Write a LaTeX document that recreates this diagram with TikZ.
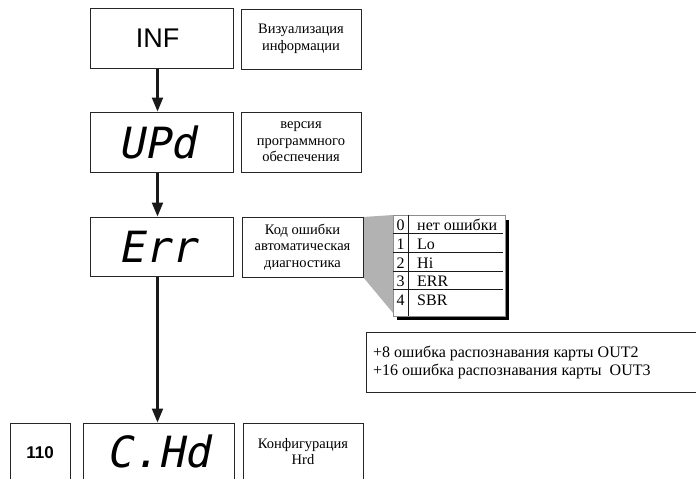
\documentclass[tikz,border=0pt]{standalone}
\usepackage{fontspec}
\setmainfont{Liberation Serif}
\newfontfamily\arialfont{Liberation Sans}
\newfontfamily\segfont{DejaVu Sans Mono}[FakeStretch=1.0,FakeSlant=0.2]
\usetikzlibrary{arrows.meta}
\begin{document}
\begin{tikzpicture}[x=1pt,y=-1pt,
  box/.style={draw=black!85, line width=1pt, inner sep=0pt, fill=white},
  mainbox/.style={box, minimum width=143pt, minimum height=60pt},
  desc/.style={box, align=center, minimum width=120pt, minimum height=60pt,
    font=\fontsize{14.5}{16.5}\selectfont},
  flow/.style={line width=2.2pt, draw=black!90, -{Triangle[length=14pt,width=11pt]}},
  cell/.style={font=\fontsize{16}{17}\selectfont, inner sep=0pt, anchor=base},
  rowline/.style={line width=0.9pt, draw=black!90}
]
\newcommand\segtext{\segfont\fontsize{43}{43}\selectfont}
\useasboundingbox (0,0) rectangle (696,479);
\clip (0,0) rectangle (696,479);

% axis of the flow arrows
\coordinate (ax) at (157.5,0);

% main column
\node[mainbox] (inf) at (161.5,38) {\arialfont\fontsize{27}{27}\selectfont INF\hspace*{8pt}};
\node[mainbox] (upd) at (161.5,142) {\segtext UPd\hspace*{8pt}};
\node[mainbox, minimum height=59pt] (err) at (161.5,246.5) {\segtext Err\hspace*{8pt}};
\node[box, minimum width=151pt, minimum height=60pt] (chd) at (158.5,453)
  {\raisebox{3pt}{\segtext C.Hd}};
\node[box, minimum width=60pt, minimum height=60pt] (num) at (40,453)
  {\arialfont\bfseries\fontsize{17}{17}\selectfont 110};

% descriptions
\node[desc] (d1) at (301,39) {Визуализация\\информации};
\node[desc] (d2) at (301,142) {версия\\программного\\обеспечения};

% funnel to the table
\fill[black!30] (363,217) -- (393,215) -- (393,313) -- (363,277) -- cycle;
\node[desc, minimum width=121pt] (d3) at (302.5,247) {Код ошибки\\автоматическая\\диагностика};
\node[desc] (d4) at (303,453) {\raisebox{3pt}{\begin{tabular}{@{}c@{}}Конфигурация\\[-0.5pt]Hrd\end{tabular}}};

% error table
\fill[black] (397,220) rectangle (509,320);
\draw[draw=black!45, fill=white, line width=0.8pt] (393,215) rectangle (505,316);
\foreach \yy in {233,252,271,289} \draw[rowline] (393,\yy) -- (503,\yy);
\draw[rowline] (408,215) -- (408,316);
\node[cell] (n0) at (400.5,230) {0};
\node[cell] (n1) at (400.5,249) {1};
\node[cell] (n2) at (400.5,268) {2};
\node[cell] (n3) at (400.5,286) {3};
\node[cell] (n4) at (400.5,305) {4};
\node[cell, anchor=base west] (t0) at (417,230) {нет ошибки};
\node[cell, anchor=base west] (t1) at (417,249) {Lo};
\node[cell, anchor=base west] (t2) at (417,268) {Hi};
\node[cell, anchor=base west] (t3) at (417,286) {ERR};
\node[cell, anchor=base west] (t4) at (417,305) {SBR};

% note box
\node[draw=black!85, line width=0.9pt, minimum width=340pt, minimum height=60pt, inner sep=0pt] (note) at (536,362) {};
\node[anchor=west, align=left, inner sep=0pt, font=\fontsize{16}{18}\selectfont] (notetext) at (373,362)
  {+8 ошибка распознавания карты OUT2\\+16 ошибка распознавания карты\ \ OUT3};

% flow arrows
\draw[flow] (inf.south -| ax) -- (upd.north -| ax);
\draw[flow] (upd.south -| ax) -- (err.north -| ax);
\draw[flow] (err.south -| ax) -- (chd.north -| ax);
\end{tikzpicture}
\end{document}
